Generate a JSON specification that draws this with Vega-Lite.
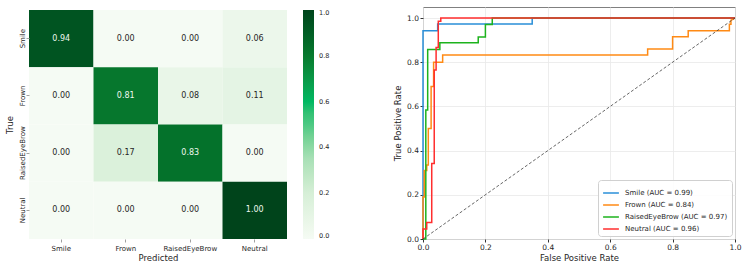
{
  "$schema": "https://vega.github.io/schema/vega-lite/v6.json",
  "padding": {"left": 5, "top": 6, "right": 5, "bottom": 5},
  "config": {
    "font": "DejaVu Sans",
    "view": {"stroke": null},
    "axis": {"labelColor": "#262626", "titleColor": "#262626", "titleFontWeight": "normal"}
  },
  "datasets": {
    "confusion": [
      {"actual": "Smile", "predicted": "Smile", "value": 0.94},
      {"actual": "Smile", "predicted": "Frown", "value": 0.0},
      {"actual": "Smile", "predicted": "RaisedEyeBrow", "value": 0.0},
      {"actual": "Smile", "predicted": "Neutral", "value": 0.06},
      {"actual": "Frown", "predicted": "Smile", "value": 0.0},
      {"actual": "Frown", "predicted": "Frown", "value": 0.81},
      {"actual": "Frown", "predicted": "RaisedEyeBrow", "value": 0.08},
      {"actual": "Frown", "predicted": "Neutral", "value": 0.11},
      {"actual": "RaisedEyeBrow", "predicted": "Smile", "value": 0.0},
      {"actual": "RaisedEyeBrow", "predicted": "Frown", "value": 0.17},
      {"actual": "RaisedEyeBrow", "predicted": "RaisedEyeBrow", "value": 0.83},
      {"actual": "RaisedEyeBrow", "predicted": "Neutral", "value": 0.0},
      {"actual": "Neutral", "predicted": "Smile", "value": 0.0},
      {"actual": "Neutral", "predicted": "Frown", "value": 0.0},
      {"actual": "Neutral", "predicted": "RaisedEyeBrow", "value": 0.0},
      {"actual": "Neutral", "predicted": "Neutral", "value": 1.0}
    ],
    "roc": [
      {"curve": "Smile (AUC = 0.99)", "fpr": 0, "tpr": 0},
      {"curve": "Smile (AUC = 0.99)", "fpr": 0, "tpr": 0.943},
      {"curve": "Smile (AUC = 0.99)", "fpr": 0.047, "tpr": 0.943},
      {"curve": "Smile (AUC = 0.99)", "fpr": 0.047, "tpr": 0.973},
      {"curve": "Smile (AUC = 0.99)", "fpr": 0.35, "tpr": 0.973},
      {"curve": "Smile (AUC = 0.99)", "fpr": 0.35, "tpr": 1},
      {"curve": "Smile (AUC = 0.99)", "fpr": 1, "tpr": 1},

      {"curve": "Frown (AUC = 0.84)", "fpr": 0, "tpr": 0},
      {"curve": "Frown (AUC = 0.84)", "fpr": 0, "tpr": 0.19},
      {"curve": "Frown (AUC = 0.84)", "fpr": 0.004, "tpr": 0.19},
      {"curve": "Frown (AUC = 0.84)", "fpr": 0.004, "tpr": 0.31},
      {"curve": "Frown (AUC = 0.84)", "fpr": 0.012, "tpr": 0.31},
      {"curve": "Frown (AUC = 0.84)", "fpr": 0.012, "tpr": 0.335},
      {"curve": "Frown (AUC = 0.84)", "fpr": 0.017, "tpr": 0.335},
      {"curve": "Frown (AUC = 0.84)", "fpr": 0.017, "tpr": 0.5},
      {"curve": "Frown (AUC = 0.84)", "fpr": 0.026, "tpr": 0.5},
      {"curve": "Frown (AUC = 0.84)", "fpr": 0.026, "tpr": 0.69},
      {"curve": "Frown (AUC = 0.84)", "fpr": 0.034, "tpr": 0.69},
      {"curve": "Frown (AUC = 0.84)", "fpr": 0.034, "tpr": 0.8},
      {"curve": "Frown (AUC = 0.84)", "fpr": 0.063, "tpr": 0.8},
      {"curve": "Frown (AUC = 0.84)", "fpr": 0.063, "tpr": 0.833},
      {"curve": "Frown (AUC = 0.84)", "fpr": 0.72, "tpr": 0.833},
      {"curve": "Frown (AUC = 0.84)", "fpr": 0.72, "tpr": 0.86},
      {"curve": "Frown (AUC = 0.84)", "fpr": 0.8, "tpr": 0.86},
      {"curve": "Frown (AUC = 0.84)", "fpr": 0.8, "tpr": 0.915},
      {"curve": "Frown (AUC = 0.84)", "fpr": 0.85, "tpr": 0.915},
      {"curve": "Frown (AUC = 0.84)", "fpr": 0.85, "tpr": 0.943},
      {"curve": "Frown (AUC = 0.84)", "fpr": 0.982, "tpr": 0.943},
      {"curve": "Frown (AUC = 0.84)", "fpr": 0.982, "tpr": 0.972},
      {"curve": "Frown (AUC = 0.84)", "fpr": 0.987, "tpr": 0.972},
      {"curve": "Frown (AUC = 0.84)", "fpr": 0.987, "tpr": 0.99},
      {"curve": "Frown (AUC = 0.84)", "fpr": 1, "tpr": 1},

      {"curve": "RaisedEyeBrow (AUC = 0.97)", "fpr": 0, "tpr": 0},
      {"curve": "RaisedEyeBrow (AUC = 0.97)", "fpr": 0.009, "tpr": 0},
      {"curve": "RaisedEyeBrow (AUC = 0.97)", "fpr": 0.009, "tpr": 0.584},
      {"curve": "RaisedEyeBrow (AUC = 0.97)", "fpr": 0.015, "tpr": 0.584},
      {"curve": "RaisedEyeBrow (AUC = 0.97)", "fpr": 0.015, "tpr": 0.858},
      {"curve": "RaisedEyeBrow (AUC = 0.97)", "fpr": 0.054, "tpr": 0.858},
      {"curve": "RaisedEyeBrow (AUC = 0.97)", "fpr": 0.054, "tpr": 0.888},
      {"curve": "RaisedEyeBrow (AUC = 0.97)", "fpr": 0.177, "tpr": 0.888},
      {"curve": "RaisedEyeBrow (AUC = 0.97)", "fpr": 0.177, "tpr": 0.914},
      {"curve": "RaisedEyeBrow (AUC = 0.97)", "fpr": 0.2, "tpr": 0.914},
      {"curve": "RaisedEyeBrow (AUC = 0.97)", "fpr": 0.2, "tpr": 0.971},
      {"curve": "RaisedEyeBrow (AUC = 0.97)", "fpr": 0.222, "tpr": 0.971},
      {"curve": "RaisedEyeBrow (AUC = 0.97)", "fpr": 0.222, "tpr": 1},
      {"curve": "RaisedEyeBrow (AUC = 0.97)", "fpr": 1, "tpr": 1},

      {"curve": "Neutral (AUC = 0.96)", "fpr": 0, "tpr": 0},
      {"curve": "Neutral (AUC = 0.96)", "fpr": 0, "tpr": 0.045},
      {"curve": "Neutral (AUC = 0.96)", "fpr": 0.012, "tpr": 0.045},
      {"curve": "Neutral (AUC = 0.96)", "fpr": 0.012, "tpr": 0.075},
      {"curve": "Neutral (AUC = 0.96)", "fpr": 0.028, "tpr": 0.075},
      {"curve": "Neutral (AUC = 0.96)", "fpr": 0.028, "tpr": 0.342},
      {"curve": "Neutral (AUC = 0.96)", "fpr": 0.036, "tpr": 0.342},
      {"curve": "Neutral (AUC = 0.96)", "fpr": 0.036, "tpr": 0.765},
      {"curve": "Neutral (AUC = 0.96)", "fpr": 0.042, "tpr": 0.765},
      {"curve": "Neutral (AUC = 0.96)", "fpr": 0.042, "tpr": 0.867},
      {"curve": "Neutral (AUC = 0.96)", "fpr": 0.049, "tpr": 0.867},
      {"curve": "Neutral (AUC = 0.96)", "fpr": 0.049, "tpr": 0.986},
      {"curve": "Neutral (AUC = 0.96)", "fpr": 0.057, "tpr": 0.986},
      {"curve": "Neutral (AUC = 0.96)", "fpr": 0.057, "tpr": 1},
      {"curve": "Neutral (AUC = 0.96)", "fpr": 1, "tpr": 1}
    ],
    "chance": [
      {"fpr": 0, "tpr": 0},
      {"fpr": 1, "tpr": 1}
    ]
  },
  "spacing": 63,
  "resolve": {"scale": {"color": "independent"}, "legend": {"color": "independent"}},
  "hconcat": [
    {
      "width": 258,
      "height": 232,
      "data": {"name": "confusion"},
      "encoding": {
        "x": {
          "field": "predicted", "type": "nominal",
          "sort": ["Smile", "Frown", "RaisedEyeBrow", "Neutral"],
          "scale": {"paddingInner": 0, "paddingOuter": 0},
          "axis": {
            "title": "Predicted", "labelAngle": 0, "domain": false,
            "tickSize": 3, "tickColor": "#a0a0a0",
            "labelFontSize": 7, "titleFontSize": 8.5,
            "labelPadding": 2, "titlePadding": 2
          }
        },
        "y": {
          "field": "actual", "type": "nominal",
          "sort": ["Smile", "Frown", "RaisedEyeBrow", "Neutral"],
          "scale": {"range": [3, 232], "paddingInner": 0, "paddingOuter": 0},
          "axis": {
            "title": "True", "labelAngle": -90, "labelAlign": "center", "labelBaseline": "bottom",
            "domain": false, "tickSize": 3, "tickColor": "#a0a0a0",
            "labelFontSize": 7, "titleFontSize": 8.5,
            "labelPadding": 1, "titlePadding": 4
          }
        }
      },
      "layer": [
        {
          "mark": {"type": "rect"},
          "encoding": {
            "color": {
              "field": "value", "type": "quantitative",
              "scale": {
                "domain": [0, 0.2, 0.35, 0.5, 0.6, 0.8, 1],
                "range": ["#f5fbf4", "#d6efd7", "#a8e0b6", "#4cc983", "#00b862", "#077a2e", "#00441b"]
              },
              "legend": {
                "orient": "none", "legendX": 274, "legendY": 3,
                "title": null, "direction": "vertical",
                "gradientLength": 229, "gradientThickness": 11, "gradientStrokeWidth": 0,
                "values": [0, 0.2, 0.4, 0.6, 0.8, 1], "format": ".1f",
                "labelFontSize": 6.5, "labelOffset": 5, "labelColor": "#262626",
                "labelBaseline": "middle", "labelOverlap": false, "padding": 0
              }
            }
          }
        },
        {
          "mark": {"type": "text", "fontSize": 8},
          "encoding": {
            "text": {"field": "value", "type": "quantitative", "format": ".2f"},
            "color": {"condition": {"test": "datum.value > 0.5", "value": "#eef8ee"}, "value": "#262626"}
          }
        }
      ]
    },
    {
      "width": 312,
      "height": 232,
      "view": {"stroke": "#808080", "strokeWidth": 1},
      "encoding": {
        "x": {
          "field": "fpr", "type": "quantitative",
          "scale": {"domain": [0, 1], "nice": false},
          "axis": {
            "title": "False Positive Rate", "values": [0, 0.2, 0.4, 0.6, 0.8, 1], "format": ".1f",
            "grid": true, "gridColor": "#e8e8e8", "gridWidth": 0.8, "domain": false,
            "tickSize": 3, "tickColor": "#333333", "labelFlush": false,
            "labelFontSize": 7.5, "titleFontSize": 8.5, "labelPadding": 1.5, "titlePadding": 2
          }
        },
        "y": {
          "field": "tpr", "type": "quantitative",
          "scale": {"domain": [0, 1.05], "nice": false},
          "axis": {
            "title": "True Positive Rate", "values": [0, 0.2, 0.4, 0.6, 0.8, 1], "format": ".1f",
            "grid": true, "gridColor": "#e8e8e8", "gridWidth": 0.8, "domain": false,
            "tickSize": 3, "tickColor": "#333333", "labelFlush": false,
            "labelFontSize": 7.5, "titleFontSize": 8.5, "labelPadding": 1.5, "titlePadding": 4
          }
        }
      },
      "layer": [
        {
          "data": {"name": "roc"},
          "mark": {"type": "line", "strokeWidth": 1.5},
          "encoding": {
            "color": {
              "field": "curve", "type": "nominal",
              "scale": {
                "domain": ["Smile (AUC = 0.99)", "Frown (AUC = 0.84)", "RaisedEyeBrow (AUC = 0.97)", "Neutral (AUC = 0.96)"],
                "range": ["#2a8fd8", "#ff8a14", "#1db31d", "#ff2e2e"]
              },
              "legend": {
                "orient": "bottom-right", "title": null, "offset": 3, "padding": 4,
                "fillColor": "rgba(255,255,255,0.85)", "strokeColor": "#d0d0d0", "cornerRadius": 3,
                "symbolType": "stroke", "symbolStrokeWidth": 1.5, "symbolSize": 250,
                "labelFontSize": 7, "labelColor": "#262626", "rowPadding": 0, "labelOffset": 5
              }
            },
            "order": [{"field": "fpr", "type": "quantitative"}, {"field": "tpr", "type": "quantitative"}]
          }
        },
        {
          "data": {"name": "chance"},
          "mark": {"type": "line", "strokeDash": [3, 2], "strokeWidth": 0.8, "color": "#404040"},
          "encoding": {}
        }
      ]
    }
  ]
}
